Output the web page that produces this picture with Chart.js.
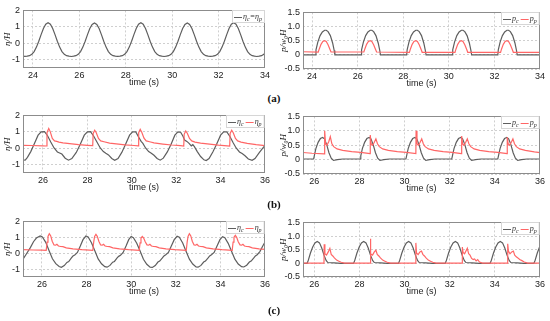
<!DOCTYPE html>
<html><head><meta charset="utf-8">
<script src="https://cdn.jsdelivr.net/npm/chart.js@4.4.1/dist/chart.umd.min.js"></script>
<style>
body{margin:0;background:#fff;width:550px;height:321px;overflow:hidden;position:relative}
canvas{position:absolute}
.tag{position:absolute;width:40px;text-align:center;font:bold 11px "Liberation Serif",serif;color:#111}
</style></head><body>
<canvas id="aL"></canvas><canvas id="aR"></canvas>
<canvas id="bL"></canvas><canvas id="bR"></canvas>
<canvas id="cL"></canvas><canvas id="cR"></canvas>
<div class="tag" style="left:254px;top:92px">(a)</div>
<div class="tag" style="left:254px;top:198px">(b)</div>
<div class="tag" style="left:254px;top:304px">(c)</div>
<script>
// ---- ticks ----
const ticksA = [24, 26, 28, 30, 32, 34];
const ticksBC = [26, 28, 30, 32, 34, 36];
const etaTicks = [-1, 0, 1, 2];
const pTicks = [-0.5, 0, 0.5, 1, 1.5];

// ---- (a) surface elevation, eta_c = eta_p ----
const etaA = [[23.55,-0.78],[23.65,-0.79],[23.75,-0.78],[23.85,-0.75],[23.95,-0.67],[24.05,-0.50],[24.15,-0.23],[24.25,0.13],[24.35,0.53],[24.45,0.90],[24.55,1.16],[24.65,1.25],[24.75,1.16],[24.85,0.90],[24.95,0.53],[25.05,0.13],[25.15,-0.23],[25.25,-0.50],[25.35,-0.67],[25.45,-0.75],
 [25.55,-0.78],[25.65,-0.80],[25.75,-0.78],[25.85,-0.75],[25.95,-0.67],[26.05,-0.50],[26.15,-0.23],[26.25,0.13],[26.35,0.53],[26.45,0.90],[26.55,1.15],[26.65,1.24],[26.75,1.15],[26.85,0.90],[26.95,0.53],[27.05,0.13],[27.15,-0.23],[27.25,-0.50],[27.35,-0.67],[27.45,-0.75],
 [27.55,-0.78],[27.65,-0.79],[27.75,-0.78],[27.85,-0.75],[27.95,-0.67],[28.05,-0.50],[28.15,-0.23],[28.25,0.13],[28.35,0.53],[28.45,0.90],[28.55,1.16],[28.65,1.25],[28.75,1.16],[28.85,0.90],[28.95,0.53],[29.05,0.13],[29.15,-0.23],[29.25,-0.50],[29.35,-0.67],[29.45,-0.75],
 [29.55,-0.78],[29.65,-0.80],[29.75,-0.78],[29.85,-0.75],[29.95,-0.67],[30.05,-0.50],[30.15,-0.23],[30.25,0.13],[30.35,0.53],[30.45,0.90],[30.55,1.15],[30.65,1.24],[30.75,1.15],[30.85,0.90],[30.95,0.53],[31.05,0.13],[31.15,-0.23],[31.25,-0.50],[31.35,-0.67],[31.45,-0.75],
 [31.55,-0.78],[31.65,-0.79],[31.75,-0.78],[31.85,-0.75],[31.95,-0.67],[32.05,-0.50],[32.15,-0.23],[32.25,0.13],[32.35,0.53],[32.45,0.90],[32.55,1.16],[32.65,1.25],[32.75,1.16],[32.85,0.90],[32.95,0.53],[33.05,0.13],[33.15,-0.23],[33.25,-0.50],[33.35,-0.67],[33.45,-0.75],
 [33.55,-0.78],[33.65,-0.80],[33.75,-0.78],[33.85,-0.75],[33.95,-0.67],[34.05,-0.50]];

// ---- (a) pressures ----
const pcA = [[23.55,0],
 [24.15,0],[24.17,0.18],[24.25,0.45],[24.35,0.68],[24.45,0.81],[24.55,0.87],[24.62,0.87],[24.7,0.82],[24.8,0.68],[24.9,0.42],[24.97,0.15],[25.0,0],
 [26.15,0],[26.17,0.18],[26.25,0.45],[26.35,0.68],[26.45,0.81],[26.55,0.87],[26.62,0.87],[26.7,0.82],[26.8,0.68],[26.9,0.42],[26.97,0.15],[27.0,0],
 [28.15,0],[28.17,0.18],[28.25,0.45],[28.35,0.68],[28.45,0.81],[28.55,0.87],[28.62,0.87],[28.7,0.82],[28.8,0.68],[28.9,0.42],[28.97,0.15],[29.0,0],
 [30.15,0],[30.17,0.18],[30.25,0.45],[30.35,0.68],[30.45,0.81],[30.55,0.87],[30.62,0.87],[30.7,0.82],[30.8,0.68],[30.9,0.42],[30.97,0.15],[31.0,0],
 [32.15,0],[32.17,0.18],[32.25,0.45],[32.35,0.68],[32.45,0.81],[32.55,0.87],[32.62,0.87],[32.7,0.82],[32.8,0.68],[32.9,0.42],[32.97,0.15],[33.0,0],
 [34.05,0]];
const ppA = [[23.55,0.11],
 [24.27,0.1],[24.31,0.2],[24.39,0.37],[24.47,0.47],[24.55,0.5],[24.62,0.47],[24.7,0.36],[24.78,0.2],[24.83,0.1],
 [26.27,0.1],[26.31,0.2],[26.39,0.37],[26.47,0.47],[26.55,0.5],[26.62,0.47],[26.7,0.36],[26.78,0.2],[26.83,0.1],
 [28.27,0.09],[28.31,0.2],[28.39,0.37],[28.47,0.47],[28.55,0.5],[28.62,0.47],[28.7,0.36],[28.78,0.2],[28.83,0.09],
 [30.27,0.09],[30.31,0.2],[30.39,0.37],[30.47,0.47],[30.55,0.5],[30.62,0.47],[30.7,0.36],[30.78,0.2],[30.83,0.09],
 [32.27,0.09],[32.31,0.2],[32.39,0.37],[32.47,0.47],[32.55,0.5],[32.62,0.47],[32.7,0.36],[32.78,0.2],[32.83,0.09],
 [34.05,0.09]];

// ---- (b) surface elevation ----
const etaCB = [[25.05,-0.6],[25.12,-0.7],[25.2,-0.72],[25.3,-0.55],[25.45,-0.2],[25.6,0.25],[25.78,0.8],[25.92,1.0],[26.07,1.02],[26.2,0.78],[26.35,0.38],[26.5,0.02],[26.65,-0.22],[26.75,-0.28],[26.85,-0.35],[27.0,-0.6],[27.15,-0.72],[27.3,-0.62],
 [27.5,-0.25],[27.68,0.25],[27.86,0.8],[28.0,1.0],[28.14,1.01],[28.28,0.75],[28.43,0.38],[28.58,0.02],[28.72,-0.2],[28.83,-0.3],[28.95,-0.4],[29.1,-0.62],[29.23,-0.73],[29.38,-0.62],
 [29.55,-0.25],[29.72,0.25],[29.9,0.8],[30.04,1.0],[30.18,1.0],[30.3,0.7],[30.42,0.42],[30.5,0.3],[30.62,0.02],[30.76,-0.2],[30.88,-0.3],[31.0,-0.42],[31.14,-0.62],[31.28,-0.72],[31.42,-0.6],
 [31.6,-0.22],[31.77,0.25],[31.94,0.8],[32.08,1.0],[32.2,0.98],[32.3,0.75],[32.38,0.5],[32.48,0.42],[32.58,0.3],[32.68,0.15],[32.75,0.22],[32.82,0.1],[32.95,-0.2],[33.1,-0.5],[33.25,-0.7],[33.35,-0.74],[33.48,-0.62],
 [33.65,-0.22],[33.82,0.25],[34.0,0.8],[34.14,1.0],[34.28,1.0],[34.42,0.72],[34.56,0.35],[34.7,0.02],[34.85,-0.22],[34.97,-0.32],[35.1,-0.45],[35.25,-0.65],[35.42,-0.73],[35.55,-0.62],[35.75,-0.25],[36.0,0.18],[36.05,0.28]];
const etaPB = [[25.05,0.18],[25.5,0.17],[26.0,0.15],[26.16,0.14],[26.18,0.95],[26.26,1.2],[26.33,1.0],[26.42,0.6],[26.52,0.45],[26.62,0.42],[26.72,0.38],[26.9,0.33],[27.2,0.28],[27.6,0.22],[28.0,0.18],[28.24,0.16],
 [28.26,0.9],[28.33,1.1],[28.4,0.95],[28.5,0.6],[28.6,0.45],[28.75,0.4],[29.0,0.32],[29.3,0.27],[29.7,0.21],[30.1,0.17],[30.29,0.15],
 [30.31,0.95],[30.38,1.15],[30.45,0.98],[30.55,0.62],[30.65,0.45],[30.8,0.4],[31.0,0.33],[31.4,0.26],[31.8,0.2],[32.2,0.16],[32.34,0.14],
 [32.36,0.85],[32.43,1.05],[32.5,0.92],[32.6,0.6],[32.7,0.45],[32.85,0.38],[33.1,0.32],[33.5,0.25],[33.9,0.19],[34.3,0.15],[34.41,0.14],
 [34.43,0.9],[34.5,1.1],[34.57,0.95],[34.67,0.6],[34.77,0.45],[34.92,0.38],[35.2,0.3],[35.6,0.22],[36.05,0.16]];

// ---- (b) pressures ----
const pcB = [[25.45,0.02],
 [25.97,0.02],[26.0,0.13],[26.07,0.38],[26.17,0.6],[26.27,0.73],[26.37,0.77],[26.45,0.72],[26.55,0.52],[26.65,0.24],[26.75,0.05],[26.85,-0.03],[27.02,0.0],[27.27,0.02],
 [28.03,0.02],[28.06,0.13],[28.13,0.38],[28.23,0.6],[28.33,0.73],[28.43,0.77],[28.51,0.72],[28.61,0.52],[28.71,0.24],[28.81,0.05],[28.91,-0.03],[29.08,0.0],[29.33,0.02],
 [30.06,0.02],[30.09,0.13],[30.16,0.38],[30.26,0.6],[30.36,0.73],[30.46,0.77],[30.54,0.72],[30.64,0.52],[30.74,0.24],[30.84,0.05],[30.94,-0.03],[31.11,0.0],[31.36,0.02],
 [32.09,0.02],[32.12,0.13],[32.19,0.38],[32.29,0.6],[32.39,0.73],[32.49,0.77],[32.57,0.72],[32.67,0.52],[32.77,0.24],[32.87,0.05],[32.97,-0.03],[33.14,0.0],[33.39,0.02],
 [34.13,0.02],[34.16,0.13],[34.23,0.38],[34.33,0.6],[34.43,0.73],[34.53,0.77],[34.61,0.72],[34.71,0.52],[34.81,0.24],[34.91,0.05],[35.01,-0.03],[35.18,0.0],[35.43,0.02],[36.05,0.02]];
const ppB = [[25.45,0.25],[25.9,0.22],[26.45,0.2],
 [26.46,1.0],[26.5,0.55],[26.56,0.5],[26.64,0.62],[26.71,0.8],[26.78,0.55],[26.86,0.45],[27.01,0.37],[27.26,0.32],[27.66,0.28],[28.06,0.25],[28.47,0.21],
 [28.48,0.85],[28.52,0.55],[28.58,0.5],[28.66,0.6],[28.73,0.72],[28.8,0.55],[28.88,0.45],[29.03,0.37],[29.28,0.32],[29.68,0.28],[30.08,0.25],[30.5,0.21],
 [30.51,1.0],[30.55,0.55],[30.61,0.5],[30.69,0.6],[30.76,0.72],[30.83,0.55],[30.91,0.45],[31.06,0.37],[31.31,0.32],[31.71,0.28],[32.11,0.25],[32.52,0.21],
 [32.53,0.82],[32.57,0.55],[32.63,0.5],[32.71,0.6],[32.78,0.72],[32.85,0.55],[32.93,0.45],[33.08,0.37],[33.33,0.32],[33.73,0.28],[34.13,0.25],[34.54,0.21],
 [34.55,0.78],[34.59,0.55],[34.65,0.5],[34.73,0.6],[34.8,0.72],[34.87,0.55],[34.95,0.45],[35.1,0.37],[35.35,0.32],[35.75,0.27],[36.05,0.24]];

// ---- (c) surface elevation ----
const etaCC = [[25.1,-0.45],[25.16,-0.36],[25.3,-0.05],[25.48,0.35],[25.62,0.72],[25.75,0.95],[25.92,1.08],[26.02,1.02],[26.17,0.68],[26.32,0.15],[26.47,-0.35],[26.62,-0.66],[26.77,-0.84],[26.87,-0.89],[27.0,-0.78],[27.12,-0.58],[27.2,-0.53],[27.32,-0.3],[27.39,-0.18],[27.47,-0.12],[27.59,0.05],[27.72,0.45],[27.84,0.85],[27.97,1.08],
 [28.07,1.02],[28.22,0.66],[28.37,0.15],[28.52,-0.36],[28.67,-0.67],[28.82,-0.85],[28.92,-0.88],[29.05,-0.77],[29.17,-0.57],[29.25,-0.52],[29.37,-0.3],[29.44,-0.2],[29.52,-0.14],[29.64,0.05],[29.77,0.45],[29.89,0.85],[30.0,1.05],
 [30.1,0.98],[30.25,0.63],[30.4,0.14],[30.55,-0.38],[30.7,-0.7],[30.85,-0.88],[30.95,-0.9],[31.08,-0.78],[31.2,-0.56],[31.28,-0.5],[31.4,-0.3],[31.47,-0.17],[31.55,-0.1],[31.67,0.05],[31.8,0.45],[31.93,0.85],[32.06,1.06],
 [32.16,1.0],[32.31,0.64],[32.46,0.12],[32.61,-0.38],[32.76,-0.68],[32.91,-0.86],[33.0,-0.88],[33.13,-0.77],[33.25,-0.56],[33.33,-0.5],[33.45,-0.3],[33.52,-0.17],[33.6,-0.1],[33.72,0.05],[33.85,0.45],[33.98,0.85],[34.1,1.04],
 [34.2,0.98],[34.35,0.62],[34.5,0.12],[34.65,-0.38],[34.8,-0.68],[34.95,-0.85],[35.05,-0.87],[35.18,-0.76],[35.3,-0.56],[35.38,-0.5],[35.5,-0.3],[35.57,-0.17],[35.65,-0.1],[35.77,0.1],[35.9,0.45],[36.0,0.7],[36.05,0.8]];
const etaPC = [[25.1,0.22],[25.6,0.2],[26.0,0.19],
 [26.19,0.18],[26.23,0.7],[26.27,1.05],[26.33,1.22],[26.39,1.1],[26.46,0.75],[26.54,0.52],[26.61,0.5],[26.67,0.56],[26.74,0.45],[26.84,0.42],[26.94,0.41],[27.09,0.33],[27.39,0.27],[27.79,0.22],
 [28.28,0.18],[28.32,0.7],[28.36,1.05],[28.42,1.18],[28.48,1.06],[28.55,0.75],[28.63,0.52],[28.7,0.5],[28.76,0.56],[28.83,0.45],[28.93,0.42],[29.03,0.41],[29.18,0.33],[29.48,0.27],[29.88,0.22],
 [30.36,0.18],[30.4,0.65],[30.44,0.95],[30.5,1.05],[30.56,0.95],[30.63,0.72],[30.71,0.52],[30.78,0.5],[30.84,0.56],[30.91,0.45],[31.01,0.42],[31.11,0.41],[31.26,0.33],[31.56,0.27],[31.96,0.22],
 [32.47,0.18],[32.51,0.7],[32.55,1.05],[32.61,1.22],[32.67,1.1],[32.74,0.75],[32.82,0.52],[32.89,0.5],[32.95,0.56],[33.02,0.45],[33.12,0.42],[33.22,0.41],[33.37,0.33],[33.67,0.27],[34.07,0.22],
 [34.53,0.18],[34.57,0.7],[34.61,1.0],[34.67,1.12],[34.73,1.0],[34.8,0.72],[34.88,0.52],[34.95,0.5],[35.01,0.56],[35.08,0.45],[35.18,0.42],[35.28,0.41],[35.43,0.33],[35.73,0.27],[36.05,0.23]];

// ---- (c) pressures ----
const pcC = [[25.45,0],
 [25.68,0],[25.73,0.1],[25.83,0.38],[25.93,0.6],[26.03,0.75],[26.13,0.8],[26.23,0.75],[26.33,0.56],[26.43,0.3],[26.53,0.1],[26.6,0.03],[26.88,0.02],[27.18,0],
 [27.74,0],[27.79,0.1],[27.89,0.38],[27.99,0.6],[28.09,0.75],[28.19,0.8],[28.29,0.75],[28.39,0.56],[28.49,0.3],[28.59,0.1],[28.66,0.03],[28.94,0.02],[29.24,0],
 [29.73,0],[29.78,0.1],[29.88,0.38],[29.98,0.6],[30.08,0.75],[30.18,0.8],[30.28,0.75],[30.38,0.56],[30.48,0.3],[30.58,0.1],[30.65,0.03],[30.93,0.02],[31.23,0],
 [31.8,0],[31.85,0.1],[31.95,0.38],[32.05,0.6],[32.15,0.75],[32.25,0.8],[32.35,0.75],[32.45,0.56],[32.55,0.3],[32.65,0.1],[32.72,0.03],[33.0,0.02],[33.3,0],
 [33.79,0],[33.84,0.1],[33.94,0.38],[34.04,0.6],[34.14,0.75],[34.24,0.8],[34.34,0.75],[34.44,0.56],[34.54,0.3],[34.64,0.1],[34.71,0.03],[34.99,0.02],[35.29,0],
 [35.73,0],[35.78,0.1],[35.88,0.38],[35.98,0.6],[36.08,0.75]];
const ppC = [[25.45,0.01],
 [26.43,0.01],[26.44,0.7],[26.47,0.35],[26.54,0.3],[26.62,0.42],[26.69,0.55],[26.75,0.33],[26.82,0.27],[26.89,0.2],[26.99,0.12],[27.09,0.08],[27.19,0.04],[27.34,0.01],
 [28.47,0.01],[28.48,0.9],[28.51,0.35],[28.58,0.3],[28.66,0.42],[28.73,0.48],[28.79,0.33],[28.86,0.27],[28.93,0.2],[29.03,0.12],[29.13,0.08],[29.23,0.04],[29.38,0.01],
 [30.49,0.01],[30.5,0.75],[30.53,0.38],[30.6,0.32],[30.68,0.42],[30.75,0.45],[30.81,0.33],[30.88,0.27],[30.95,0.2],[31.05,0.12],[31.15,0.08],[31.25,0.04],[31.4,0.01],
 [32.55,0.01],[32.56,0.6],[32.59,0.4],[32.66,0.35],[32.72,0.45],[32.78,0.55],[32.84,0.35],[32.9,0.3],[32.97,0.18],[33.04,0.14],[33.1,0.16],[33.17,0.09],[33.24,0.14],[33.32,0.05],[33.45,0.01],
 [34.56,0.01],[34.57,0.72],[34.6,0.45],[34.67,0.35],[34.75,0.42],[34.82,0.45],[34.88,0.3],[34.95,0.24],[35.02,0.2],[35.1,0.14],[35.2,0.1],[35.3,0.05],[35.45,0.01],[36.05,0.01]];

const GRAY = '#5e5e5e', RED = '#ff6666';

Chart.defaults.font.family = '"Liberation Sans", Arial, sans-serif';
Chart.defaults.font.size = 9;
Chart.defaults.color = '#222';

// box round the plot area
const frame = {
  id: 'frame',
  afterDatasetsDraw(chart) {
    const a = chart.chartArea, ctx = chart.ctx;
    ctx.save();
    ctx.strokeStyle = '#8c8c8c';
    ctx.lineWidth = 1;
    ctx.strokeRect(Math.round(a.left) + 0.5, Math.round(a.top) + 0.5, Math.round(a.right - a.left) - 1, Math.round(a.bottom - a.top) - 1);
    ctx.restore();
  }
};

// small legend in the top right corner, "_x" = subscript x
const box = {
  id: 'box',
  afterDraw(chart, args, opts) {
    const items = opts.items;
    if (!items) return;
    const ctx = chart.ctx, a = chart.chartArea;
    const fs = 8, ss = 6, lineLen = 8;
    ctx.save();
    let w = 3;
    const parts = items.map(it => {
      const segs = [];
      for (let i = 0; i < it.text.length; i++) {
        if (it.text[i] === '_') { segs.push({t: it.text[i + 1], sub: true}); i++; }
        else segs.push({t: it.text[i], sub: false});
      }
      segs.forEach(s => {
        ctx.font = 'italic ' + (s.sub ? ss : fs) + 'px "Liberation Serif", serif';
        s.w = ctx.measureText(s.t).width;
        w += s.w;
      });
      w += lineLen + 1 + 2;
      return {segs, color: it.color};
    });
    const h = 12;
    const x0 = Math.round(a.right - w), y0 = Math.round(a.top);
    ctx.fillStyle = '#fff';
    ctx.fillRect(x0, y0 + 1, w - 1, h);
    ctx.strokeStyle = '#d6d6d6';
    ctx.lineWidth = 1;
    ctx.strokeRect(x0 + 0.5, y0 + 0.5, w - 1, h);
    let x = x0 + 2;
    const yc = y0 + h / 2 + 0.5;
    parts.forEach(p => {
      ctx.strokeStyle = p.color;
      ctx.beginPath(); ctx.moveTo(x, Math.round(yc) + 0.5); ctx.lineTo(x + lineLen, Math.round(yc) + 0.5); ctx.stroke();
      x += lineLen + 1;
      ctx.fillStyle = '#333';
      ctx.textBaseline = 'alphabetic';
      p.segs.forEach(s => {
        ctx.font = 'italic ' + (s.sub ? ss : fs) + 'px "Liberation Serif", serif';
        ctx.fillText(s.t, x, s.sub ? yc + 4.5 : yc + 2.5);
        x += s.w;
      });
      x += 2;
    });
    ctx.restore();
  }
};

function panel(id, area, xMin, xMax, xTicks, yMin, yMax, yTicks, yTitle, series, legend) {
  const padTop = 6, padRight = 6, xH = 20;
  const cv = document.getElementById(id);
  cv.width = area.yw + area.r - area.l + padRight;
  cv.height = padTop + area.b - area.t + xH;
  cv.style.left = (area.l - area.yw) + 'px';
  cv.style.top = (area.t - padTop) + 'px';
  return new Chart(cv, {
    type: 'line',
    data: {
      datasets: series.map(s => ({
        data: s.pts.map(p => ({x: p[0], y: p[1]})),
        borderColor: s.color, borderWidth: 1.2, pointRadius: 0, tension: 0, order: s.order
      }))
    },
    options: {
      responsive: false, animation: false, devicePixelRatio: 1,
      layout: {padding: {top: padTop, right: padRight, left: 0, bottom: 0}},
      plugins: {legend: {display: false}, tooltip: {enabled: false}, box: {items: legend}},
      scales: {
        x: {
          type: 'linear', min: xMin, max: xMax,
          afterBuildTicks: s => { s.ticks = xTicks.map(v => ({value: v})); },
          afterFit: s => { s.height = xH; },
          grid: {color: '#cfcfcf', drawTicks: false},
          border: {display: false, dash: [2, 2]},
          ticks: {padding: 2, autoSkip: false, maxRotation: 0},
          title: {display: true, text: 'time (s)', padding: 0}
        },
        y: {
          min: yMin, max: yMax,
          afterBuildTicks: s => { s.ticks = yTicks.map(v => ({value: v})); },
          afterFit: s => { s.width = area.yw; },
          grid: {color: '#cfcfcf', drawTicks: false},
          border: {display: false, dash: [2, 2]},
          ticks: {padding: 3, autoSkip: false},
          title: {display: true, text: yTitle, padding: {top: 2, bottom: 0},
                  font: {family: '"Liberation Serif", serif', style: 'italic', size: 9}}
        }
      }
    },
    plugins: [frame, box]
  });
}

const L = {l: 23, r: 266, yw: 23}, R = {l: 303, r: 541, yw: 27};
const P_TITLE = 'p/w\u2080H';

panel('aL', {...L, t: 8, b: 68}, 23.57, 34, ticksA, -1.5, 2, etaTicks, 'η/H',
  [{pts: etaA, color: GRAY, order: 1}], [{text: 'η_c=η_p', color: GRAY}]);
panel('aR', {...R, t: 10, b: 69}, 23.6, 34, ticksA, -0.5, 1.5, pTicks, P_TITLE,
  [{pts: pcA, color: GRAY, order: 1}, {pts: ppA, color: RED, order: 0}],
  [{text: 'p_c', color: GRAY}, {text: 'p_p', color: RED}]);
panel('bL', {...L, t: 113, b: 173}, 25.1, 36, ticksBC, -1.5, 2, etaTicks, 'η/H',
  [{pts: etaCB, color: GRAY, order: 1}, {pts: etaPB, color: RED, order: 0}],
  [{text: 'η_c', color: GRAY}, {text: 'η_p', color: RED}]);
panel('bR', {...R, t: 114, b: 174}, 25.5, 36, ticksBC, -0.5, 1.5, pTicks, P_TITLE,
  [{pts: pcB, color: GRAY, order: 1}, {pts: ppB, color: RED, order: 0}],
  [{text: 'p_c', color: GRAY}, {text: 'p_p', color: RED}]);
panel('cL', {...L, t: 219, b: 277}, 25.15, 36, ticksBC, -1.5, 2, etaTicks, 'η/H',
  [{pts: etaCC, color: GRAY, order: 1}, {pts: etaPC, color: RED, order: 0}],
  [{text: 'η_c', color: GRAY}, {text: 'η_p', color: RED}]);
panel('cR', {...R, t: 220, b: 277}, 25.5, 36, ticksBC, -0.5, 1.5, pTicks, P_TITLE,
  [{pts: pcC, color: GRAY, order: 1}, {pts: ppC, color: RED, order: 0}],
  [{text: 'p_c', color: GRAY}, {text: 'p_p', color: RED}]);
</script>
</body></html>
